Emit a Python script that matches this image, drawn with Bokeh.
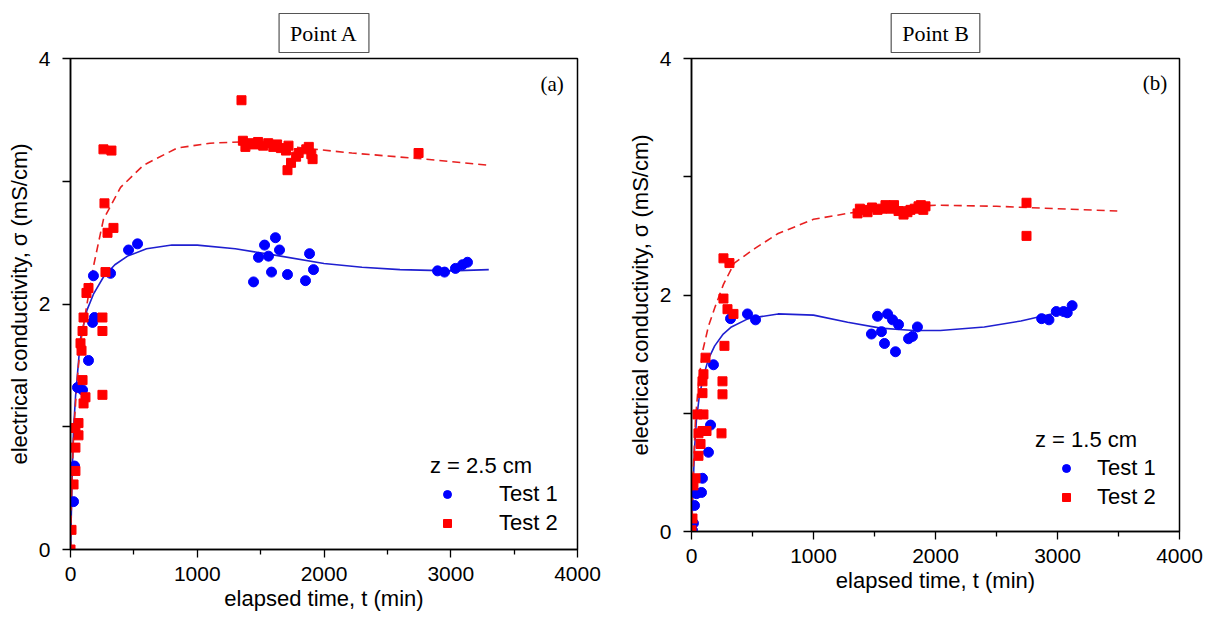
from bokeh.plotting import figure
from bokeh.layouts import row
from bokeh.models import Legend, LegendItem, Label, FixedTicker, Range1d
from bokeh.embed import file_html
from bokeh.resources import INLINE

# ---------------- Panel A data (Point A, z = 2.5 cm) ----------------
a_test1_t = [458, 529, 181, 316, 174, 189, 1444, 1483, 1531, 1562, 1617, 1649, 1586, 1712,
             1886, 1917, 1854, 2896, 2951, 3037, 3093, 3132, 142, 55, 95, 32, 24]
a_test1_s = [2.44, 2.49, 2.23, 2.25, 1.85, 1.89, 2.18, 2.38, 2.48, 2.39, 2.54, 2.44, 2.26, 2.24,
             2.41, 2.28, 2.19, 2.27, 2.26, 2.29, 2.32, 2.34, 1.54, 1.32, 1.30, 0.68, 0.39]

a_test2_t = [1349, 1360, 1380, 1420, 1450, 1480, 1520, 1560, 1600, 1630, 1660, 1700, 1720, 1712,
             1740, 1780, 1800, 1860, 1900, 1910, 1880, 2746, 260, 323, 268, 339, 292, 276, 142, 126,
             103, 252, 252, 95, 79, 87, 95, 252, 118, 103, 63, 39, 63, 39, 39, 24, 8, 0]
a_test2_s = [3.66, 3.33, 3.28, 3.31, 3.30, 3.32, 3.29, 3.31, 3.28, 3.30, 3.27, 3.25, 3.29, 3.09,
             3.15, 3.20, 3.23, 3.26, 3.22, 3.18, 3.28, 3.23, 3.26, 3.25, 2.82, 2.62, 2.58, 2.26, 2.13, 2.09,
             1.89, 1.89, 1.78, 1.78, 1.68, 1.62, 1.38, 1.26, 1.24, 1.19, 1.03, 0.99, 0.93, 0.83, 0.64, 0.53, 0.16, 0.0]

a_fit1_t = [0, 8, 16, 24, 40, 79, 130, 181, 260, 350, 450, 600, 800, 1000, 1300, 1600, 2000, 2300, 2600, 3000, 3300]
a_fit1_s = [0, 0.35, 0.70, 0.98, 1.25, 1.72, 1.95, 2.08, 2.22, 2.32, 2.39, 2.45, 2.48, 2.48, 2.45, 2.40, 2.33, 2.30, 2.28, 2.27, 2.28]

a_fit2_t = [0, 10, 25, 50, 79, 130, 186, 260, 395, 575, 840, 1100, 1340, 1750, 2220, 2800, 3300]
a_fit2_s = [0, 0.50, 0.95, 1.35, 1.68, 2.00, 2.33, 2.69, 2.95, 3.13, 3.27, 3.31, 3.32, 3.28, 3.23, 3.18, 3.13]

# ---------------- Panel B data (Point B, z = 1.5 cm) ----------------
b_test1_t = [320, 459, 525, 1475, 1525, 1557, 1582, 1607, 1648, 1697, 1672, 1779, 1811, 1852,
             2870, 2930, 2990, 3050, 3080, 3120, 180, 156, 139, 90, 82, 41, 25, 16, 8]
b_test1_s = [1.80, 1.84, 1.79, 1.67, 1.82, 1.69, 1.59, 1.84, 1.79, 1.75, 1.52, 1.63, 1.65, 1.73,
             1.80, 1.79, 1.86, 1.86, 1.85, 1.91, 1.41, 0.90, 0.67, 0.45, 0.33, 0.32, 0.22, 0.07, 0.01]

b_test2_t = [1361, 1380, 1402, 1443, 1480, 1525, 1560, 1590, 1631, 1660, 1697, 1738, 1770, 1795,
             1830, 1861, 1880, 1900, 1918, 2746, 2746, 262, 311, 262, 295, 344, 270, 254, 254, 246,
             115, 98, 90, 90, 98, 49, 90, 57, 123, 74, 57, 33, 16, 8, 0]
b_test2_s = [2.69, 2.73, 2.72, 2.70, 2.74, 2.72, 2.73, 2.76, 2.73, 2.76, 2.71, 2.68, 2.70, 2.72,
             2.73, 2.75, 2.76, 2.72, 2.75, 2.78, 2.50, 2.31, 2.27, 1.97, 1.88, 1.84, 1.57, 1.27, 1.16, 0.83,
             1.47, 1.33, 1.27, 1.17, 0.99, 0.99, 0.85, 0.83, 0.85, 0.74, 0.64, 0.45, 0.39, 0.11, 0.01]

b_fit1_t = [0, 8, 16, 25, 41, 65, 100, 139, 190, 260, 327, 465, 710, 1000, 1280, 1550, 1820, 2040, 2400, 2700, 2950, 3150]
b_fit1_s = [0, 0.20, 0.45, 0.70, 0.95, 1.15, 1.32, 1.46, 1.57, 1.67, 1.73, 1.80, 1.84, 1.83, 1.77, 1.72, 1.70, 1.70, 1.73, 1.78, 1.84, 1.91]

b_fit2_t = [0, 8, 16, 33, 57, 90, 140, 190, 262, 351, 514, 710, 1000, 1280, 1550, 1820, 2020, 2500, 3000, 3490]
b_fit2_s = [0, 0.30, 0.55, 0.95, 1.25, 1.52, 1.74, 1.89, 2.09, 2.27, 2.39, 2.52, 2.64, 2.69, 2.73, 2.75, 2.76, 2.75, 2.73, 2.71]

x_ticks = [0, 1000, 2000, 3000, 4000]
x_minor = [500, 1500, 2500, 3500]
y_ticks = [0, 2, 4]
y_minor = [1, 3]

SANS = "Liberation Sans"
SERIF = "Liberation Serif"
BLUE = "#0000ff"
RED = "#ff0000"


def panel(width, height, bl, br, bt, bb, t1, s1, t2, s2, f1t, f1s, f2t, f2s,
          title, tag, ztxt, leg_loc, glyph_w, lab_std):
    p = figure(width=width, height=height, x_range=Range1d(0, 4000), y_range=Range1d(0, 4),
               min_border_left=bl, min_border_right=br, min_border_top=bt, min_border_bottom=bb,
               output_backend="svg", toolbar_location=None)
    p.grid.visible = False
    p.outline_line_color = "black"
    p.outline_line_width = 1.5
    p.outline_line_alpha = 1.0
    p.background_fill_color = "white"
    p.border_fill_color = "white"

    p.title.text = title
    p.title.align = "center"
    p.title.text_font = SERIF
    p.title.text_font_size = "22px"
    p.title.text_font_style = "normal"
    p.title.text_color = "black"
    p.title.border_line_color = "#555555"
    p.title.border_line_width = 1.2
    p.title.background_fill_color = "white"
    p.title.padding = (11, 7)
    p.title.standoff = 12

    p.xaxis.ticker = FixedTicker(ticks=x_ticks, minor_ticks=x_minor)
    p.yaxis.ticker = FixedTicker(ticks=y_ticks, minor_ticks=y_minor)
    for ax in (p.xaxis, p.yaxis):
        ax.axis_line_width = 1.5
        ax.axis_line_color = "black"
        ax.major_tick_in = 0
        ax.major_tick_out = 8
        ax.minor_tick_in = 0
        ax.minor_tick_out = 5
        ax.major_tick_line_width = 1.3
        ax.minor_tick_line_width = 1.3
        ax.major_label_text_font = SANS
        ax.major_label_text_font_size = "21px"
        ax.major_label_text_color = "black"
        ax.axis_label_text_font = SANS
        ax.axis_label_text_font_size = "22px"
        ax.axis_label_text_font_style = "normal"
        ax.axis_label_text_color = "black"
    p.yaxis.minor_tick_out = 8
    p.xaxis.axis_label = "elapsed time, t (min)"
    p.yaxis.axis_label = "electrical conductivity, \u03c3 (mS/cm)"
    p.xaxis.major_label_standoff = 9
    p.xaxis.axis_label_standoff = 2
    p.yaxis.major_label_standoff = 12
    p.yaxis.axis_label_standoff = 4

    p.line(f1t, f1s, line_color="#1f1fd0", line_width=1.6)
    p.line(f2t, f2s, line_color="#e82020", line_width=1.6, line_dash="8 5")
    r1 = p.scatter(t1, s1, marker="circle", size=10, fill_color=BLUE, line_color=BLUE)
    r2 = p.scatter(t2, s2, marker="square", size=9, fill_color=RED, line_color=RED)

    leg = Legend(items=[LegendItem(label="Test 1", renderers=[r1]),
                        LegendItem(label="Test 2", renderers=[r2])],
                 title=ztxt, location=leg_loc, orientation="vertical")
    leg.title_text_font = SANS
    leg.title_text_font_size = "22px"
    leg.title_text_font_style = "normal"
    leg.title_text_color = "black"
    leg.title_standoff = 2
    leg.label_text_font = SANS
    leg.label_text_font_size = "22px"
    leg.label_text_color = "black"
    leg.glyph_width = glyph_w
    leg.glyph_height = 20
    leg.label_height = 20
    leg.label_standoff = lab_std
    leg.spacing = 3
    leg.padding = 0
    leg.margin = 0
    leg.border_line_color = None
    leg.background_fill_alpha = 0
    p.add_layout(leg)

    p.add_layout(Label(x=3800, y=3.79, text=tag, text_font=SERIF, text_font_size="21px",
                       text_color="black", text_align="center", text_baseline="middle"))
    return p


pA = panel(618, 618, 70, 41, 58, 69, a_test1_t, a_test1_s, a_test2_t, a_test2_s,
           a_fit1_t, a_fit1_s, a_fit2_t, a_fit2_s, "Point A", "(a)", "z = 2.5 cm", (360, 13), 34, 35)
pB = panel(594, 600, 73, 33, 58, 69, b_test1_t, b_test1_s, b_test2_t, b_test2_s,
           b_fit1_t, b_fit1_s, b_fit2_t, b_fit2_s, "Point B", "(b)", "z = 1.5 cm", (344, 21), 62, 0)

layout = row(pA, pB)
open("out.html", "w").write(file_html(layout, INLINE))
